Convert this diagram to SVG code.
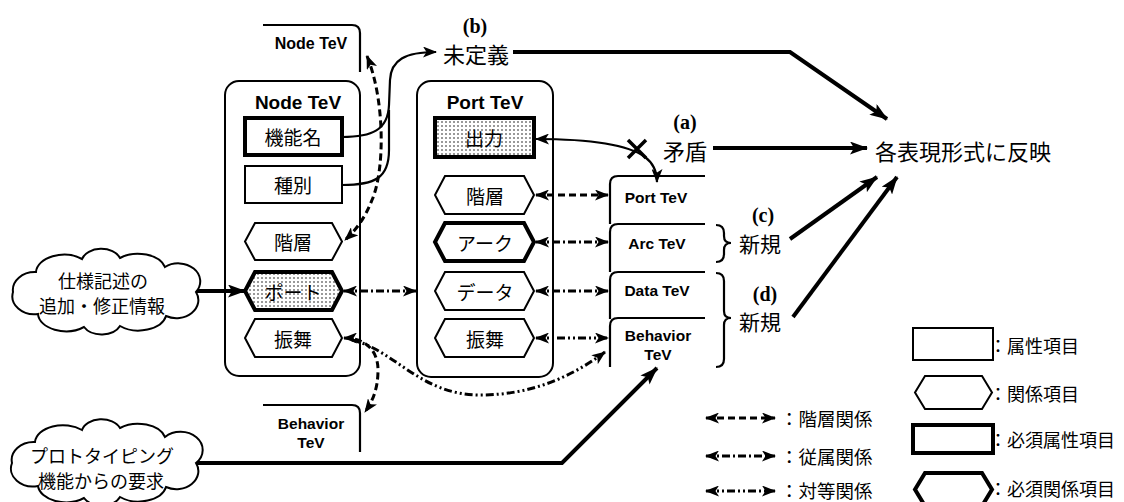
<svg xmlns="http://www.w3.org/2000/svg" width="1124" height="502" viewBox="0 0 1124 502">
<style>
.box{fill:none;stroke:#000;stroke-width:2}
.item{fill:#fff;stroke:#000;stroke-width:2}
.req{stroke-width:4}
.dot{fill:url(#dots)}
.jp{font-family:'Noto Sans CJK JP','Noto Sans',sans-serif;fill:#000;dominant-baseline:central;text-anchor:middle}
.en{font-family:'Liberation Sans',Arial,sans-serif;font-weight:bold;fill:#000;dominant-baseline:central;text-anchor:middle}
.lab{font-family:'Liberation Serif','Times New Roman',serif;font-weight:bold;fill:#000;dominant-baseline:central;text-anchor:middle;font-size:20px}
.ln{fill:none;stroke:#000}
.hier{stroke-width:3;stroke-dasharray:7 4}
.sub{stroke-width:3;stroke-dasharray:8 3 2 3}
.peer{stroke-width:3;stroke-dasharray:8 3 2 3 2 3}
.thick{stroke-width:4}
.thin{stroke-width:2.2}
</style>
<defs>
<pattern id="dots" width="4" height="4" patternUnits="userSpaceOnUse">
<rect width="4" height="4" fill="#fff"/>
<circle cx="2" cy="2" r="0.75" fill="#000"/>
</pattern>
<marker id="ah" viewBox="0 0 14 11" refX="13" refY="5.5" markerWidth="14" markerHeight="11" markerUnits="userSpaceOnUse" orient="auto-start-reverse">
<path d="M0,0 L14,5.5 L0,11 L3.5,5.5 Z" fill="#000"/>
</marker>
<marker id="big" viewBox="0 0 18 13" refX="17" refY="6.5" markerWidth="18" markerHeight="13" markerUnits="userSpaceOnUse" orient="auto-start-reverse">
<path d="M0,0 L18,6.5 L0,13 L4,6.5 Z" fill="#000"/>
</marker>
</defs>

<rect width="1124" height="502" fill="#fff"/>

<g id="node-tev-top">
<path class="ln thin" d="M263,25 L352,25 Q360,25 360,33 L360,72"/>
<text class="en" x="311" y="43" font-size="16">Node TeV</text>
</g>

<g id="node-tev">
<rect class="box" x="225" y="81" width="135" height="295" rx="14"/>
<text class="en" x="298" y="102" font-size="19">Node TeV</text>
</g>
<g id="kinoumei">
<rect class="item req" x="245" y="118" width="97" height="37"/>
<text class="jp" x="293" y="136" font-size="19">機能名</text>
</g>
<g id="shubetsu">
<rect class="item" x="245" y="166" width="97" height="37"/>
<text class="jp" x="293" y="184" font-size="19">種別</text>
</g>
<g id="node-kaisou">
<polygon class="item" points="255,223 332,223 342,241.5 332,260 255,260 245,241.5"/>
<text class="jp" x="293" y="241" font-size="19">階層</text>
</g>
<g id="node-port">
<polygon class="item req dot" points="255,272 332,272 342,291 332,310 255,310 245,291"/>
<text class="jp" x="293" y="291" font-size="19">ポート</text>
</g>
<g id="node-furumai">
<polygon class="item" points="255,319 332,319 342,338 332,357 255,357 245,338"/>
<text class="jp" x="293" y="338" font-size="19">振舞</text>
</g>

<g id="behavior-tev-bottom">
<path class="ln thin" d="M263,405 L352,405 Q360,405 360,413 L360,452"/>
<text class="en" x="311" y="423" font-size="15.5">Behavior</text>
<text class="en" x="311" y="442" font-size="15.5">TeV</text>
</g>

<g id="port-tev">
<rect class="box" x="417" y="81" width="136" height="296" rx="14"/>
<text class="en" x="485" y="102" font-size="19">Port TeV</text>
</g>
<g id="shutsuryoku">
<rect class="item req dot" x="435" y="118" width="99" height="39"/>
<text class="jp" x="484" y="137" font-size="19">出力</text>
</g>
<g id="port-kaisou">
<polygon class="item" points="445,176 524,176 534,195 524,214 445,214 435,195"/>
<text class="jp" x="485" y="195" font-size="19">階層</text>
</g>
<g id="port-arc">
<polygon class="item req" points="445,223 524,223 534,242 524,261 445,261 435,242"/>
<text class="jp" x="485" y="242" font-size="19">アーク</text>
</g>
<g id="port-data">
<polygon class="item" points="445,272 524,272 534,291 524,310 445,310 435,291"/>
<text class="jp" x="485" y="291" font-size="19">データ</text>
</g>
<g id="port-furumai">
<polygon class="item" points="445,319 524,319 534,338 524,357 445,357 435,338"/>
<text class="jp" x="485" y="338" font-size="19">振舞</text>
</g>

<g id="tev-tabs">
<path class="ln thin" d="M610,224 L610,184 Q610,176 618,176 L705,176"/>
<text class="en" x="656" y="197" font-size="15.5">Port TeV</text>
<path class="ln thin" d="M610,272 L610,232 Q610,224 618,224 L705,224"/>
<text class="en" x="657" y="243" font-size="15.5">Arc TeV</text>
<path class="ln thin" d="M610,319 L610,280 Q610,272 618,272 L705,272"/>
<text class="en" x="657" y="290" font-size="15.5">Data TeV</text>
<path class="ln thin" d="M610,367 L610,326 Q610,318 618,318 L705,318"/>
<text class="en" x="658" y="335" font-size="15.5">Behavior</text>
<text class="en" x="658" y="354" font-size="15.5">TeV</text>
</g>

<g id="brace-c">
<path class="ln thin" d="M716,225 Q724,225 724,233 L724,236 Q724,243 731,243 Q724,243 724,250 L724,254 Q724,262 716,262"/>
<text class="lab" x="763" y="215">(c)</text>
<text class="jp" x="760" y="243" font-size="21">新規</text>
</g>
<g id="brace-d">
<path class="ln thin" d="M716,273 Q724,273 724,281 L724,311 Q724,318 731,318 Q724,318 724,325 L724,359 Q724,367 716,367"/>
<text class="lab" x="765" y="294">(d)</text>
<text class="jp" x="760" y="321" font-size="21">新規</text>
</g>

<g id="label-b">
<text class="lab" x="475" y="26">(b)</text>
<text class="jp" x="476" y="53" font-size="22">未定義</text>
</g>
<g id="label-a">
<text class="lab" x="685" y="122">(a)</text>
<text class="jp" x="685" y="150" font-size="22">矛盾</text>
</g>
<g id="hanei">
<text class="jp" x="963" y="150" font-size="22">各表現形式に反映</text>
</g>

<g id="cloud-spec">
<path class="item" d="M13,292 A22,18 0 0 1 36,272 A28,18 0 0 1 82,259 A20,14 0 0 1 120,258 A28,18 0 0 1 165,267 A22,18 0 0 1 196,292 A22,18 0 0 1 166,316 A28,18 0 0 1 120,326 A20,14 0 0 1 84,327 A28,18 0 0 1 38,314 A22,18 0 0 1 13,292 Z"/>
<text class="jp" x="103" y="280" font-size="18">仕様記述の</text>
<text class="jp" x="102" y="305" font-size="18">追加・修正情報</text>
</g>
<g id="cloud-proto">
<path class="item" d="M12,463 A22,18 0 0 1 35,442 A28,18 0 0 1 82,430 A20,14 0 0 1 120,428 A28,18 0 0 1 165,437 A22,18 0 0 1 196,463 A22,18 0 0 1 166,487 A28,18 0 0 1 120,497 A20,14 0 0 1 84,498 A28,18 0 0 1 38,486 A22,18 0 0 1 12,463 Z"/>
<text class="jp" x="102" y="455" font-size="18">プロトタイピング</text>
<text class="jp" x="101" y="480" font-size="18">機能からの要求</text>
</g>

<g id="legend">
<path class="ln hier" d="M706,418 L775,418" marker-start="url(#ah)" marker-end="url(#ah)"/>
<text class="jp" x="780" y="418" font-size="18.5" style="text-anchor:start">：階層関係</text>
<path class="ln sub" d="M706,456 L775,456" marker-start="url(#ah)" marker-end="url(#ah)"/>
<text class="jp" x="780" y="456" font-size="18.5" style="text-anchor:start">：従属関係</text>
<path class="ln peer" d="M706,491 L775,491" marker-start="url(#ah)" marker-end="url(#ah)"/>
<text class="jp" x="780" y="490" font-size="18.5" style="text-anchor:start">：対等関係</text>
<rect class="item" x="913" y="328" width="80" height="32"/>
<text class="jp" x="989" y="345" font-size="18" style="text-anchor:start">：属性項目</text>
<polygon class="item" points="925,376 982,376 992,392.5 982,409 925,409 915,392.5"/>
<text class="jp" x="989" y="393" font-size="18" style="text-anchor:start">：関係項目</text>
<rect class="item req" x="913" y="425" width="80" height="28"/>
<text class="jp" x="989" y="439" font-size="18" style="text-anchor:start">：必須属性項目</text>
<polygon class="item req" points="925,473 982,473 992,489.5 982,506 925,506 915,489.5"/>
<text class="jp" x="989" y="488" font-size="18" style="text-anchor:start">：必須関係項目</text>
</g>

<g id="connectors">
<path class="ln thin" d="M342,137 C372,137 388,130 389,105 L390,80 C391,60 405,52 436,52" marker-end="url(#ah)"/>
<path class="ln thin" d="M342,185 C375,185 389,178 389,150 L389,110"/>
<path class="ln hier" d="M367,56 C385,100 385,170 372,200 C365,218 356,230 345,240" marker-start="url(#ah)" marker-end="url(#ah)"/>
<path class="ln hier" d="M344,338 C365,338 378,350 378,370 C378,390 372,402 365,412" marker-start="url(#ah)" marker-end="url(#ah)"/>
<path class="ln peer" d="M352,340 C395,350 420,395 480,395 C530,395 570,378 605,352" marker-end="url(#ah)"/>
<path class="ln sub" d="M344,291 L416,291" marker-start="url(#ah)" marker-end="url(#ah)"/>
<path class="ln hier" d="M536,195 L608,195" marker-start="url(#ah)" marker-end="url(#ah)"/>
<path class="ln sub" d="M536,242 L608,242" marker-start="url(#ah)" marker-end="url(#ah)"/>
<path class="ln sub" d="M536,291 L608,291" marker-start="url(#ah)" marker-end="url(#ah)"/>
<path class="ln peer" d="M536,338 L608,338" marker-start="url(#ah)" marker-end="url(#ah)"/>
<path class="ln thin" d="M536,139 Q620,139 645,157 Q657,166 657,182" marker-start="url(#ah)" marker-end="url(#ah)"/>
<path class="ln" stroke-width="3.5" d="M628,140 L646,158 M646,140 L628,158"/>
<path class="ln thick" d="M513,52 L790,52 L887,119" marker-end="url(#big)"/>
<path class="ln thick" d="M713,148 L867,148" marker-end="url(#big)"/>
<path class="ln thick" d="M790,239 L877,177" marker-end="url(#big)"/>
<path class="ln thick" d="M793,317 L897,177" marker-end="url(#big)"/>
<path class="ln thick" d="M197,291 L245,291" marker-end="url(#big)"/>
<path class="ln thick" d="M197,463 L562,463 L657,368" marker-end="url(#big)"/>
</g>
</svg>
